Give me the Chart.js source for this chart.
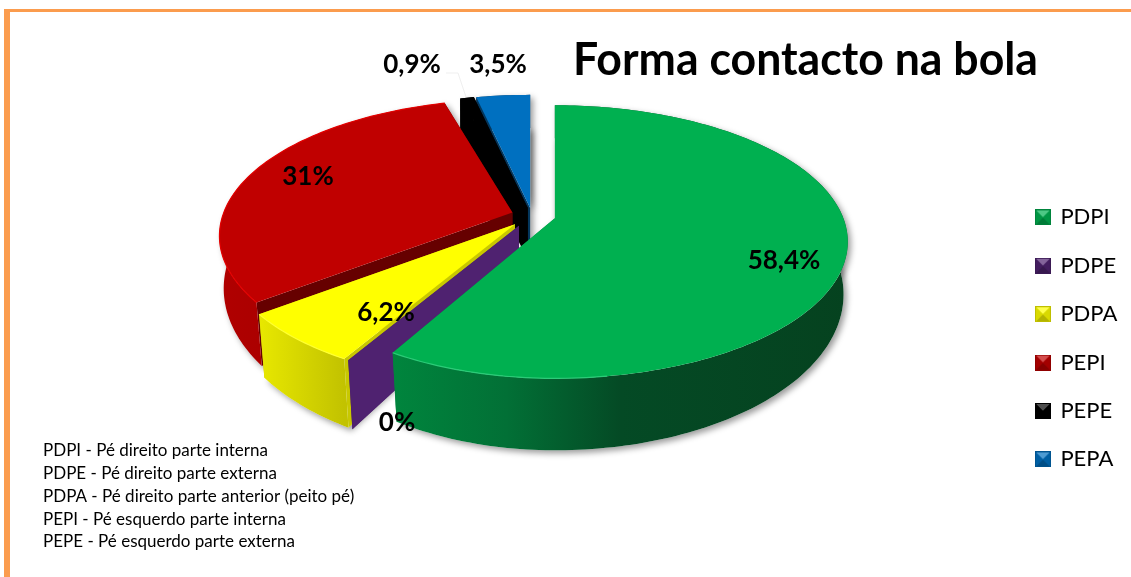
<!DOCTYPE html>
<html><head><meta charset="utf-8">
<style>html,body{margin:0;padding:0;background:#fff}canvas{display:block}</style>
<script src="https://cdn.jsdelivr.net/npm/chart.js@4"></script>
</head><body><canvas id="c" width="1131" height="577"></canvas>
<script>
const categories = ['PDPI','PDPE','PDPA','PEPI','PEPE','PEPA'];
const shares = [58.4,0,6.2,31,0.9,3.5];
const shareLabels = ['58,4%','0%','6,2%','31%','0,9%','3,5%'];
const notes = ['PDPI - Pé direito parte interna','PDPE - Pé direito parte externa','PDPA - Pé direito parte anterior (peito pé)','PEPI - Pé esquerdo parte interna','PEPE - Pé esquerdo parte externa'];
const chartTitle = 'Forma contacto na bola';

const topColors = ['#00B050','#4F2270','#FFFF00','#C00000','#000000','#0070C0'];
const sideColors = ['#008040','#4F2270','#C8C800','#660000','#000000','#04365C'];
const wallStops = [
  [[0,'#00853D'],[.25,'#027036'],[.5,'#044A25'],[1,'#05421F']],
  [[0,'#4F2270'],[1,'#4F2270']],
  [[0,'#E8E800'],[1,'#C2C200']],
  [[0,'#B00000'],[1,'#980000']],
  [[0,'#000'],[1,'#000']],
  [[0,'#04365C'],[1,'#04365C']]
];
const rimColors = ['#2CCB78',null,'#FFFF30','#E40000',null,null];
const explode = [16.4,18,17.8,14.3,12,11.5];
const labelAt = [[784,261],[397,423],[386,313],[308,177],[412,65],[498,65]];

const CX=532,CY=215.5,KX=288.6,KY=132.5,B=.172,KX2=285,KY2=152,B2=.16,D0=51;
const FONT='Lato, Carlito, sans-serif';

function swatch(hex){
  const c=document.createElement('canvas');c.width=16;c.height=16;const x=c.getContext('2d');
  const shade=(f)=>{const n=parseInt(hex.slice(1),16);let r=n>>16,g=(n>>8)&255,b=n&255;
    const m=v=>Math.round(f>1?v+(255-v)*(f-1):v*f);return `rgb(${m(r)},${m(g)},${m(b)})`;};
  x.fillStyle=shade(.85);x.fillRect(0,0,16,16);
  const tri=(a,b,col)=>{x.fillStyle=col;x.beginPath();x.moveTo(a[0],a[1]);x.lineTo(b[0],b[1]);x.lineTo(8,8);x.closePath();x.fill();};
  tri([0,0],[16,0],shade(1.3));tri([0,16],[16,16],shade(.7));tri([0,0],[0,16],shade(.85));tri([16,0],[16,16],shade(.85));
  x.strokeStyle=shade(.75);x.strokeRect(.5,.5,15,15);
  return c;
}

function drawPie(chart){
  const ctx=chart.ctx, arcs=chart.getDatasetMeta(0).data;
  // the front-left of the largest slice sits slightly narrower in the picture
  const squeeze=(a,i)=>(i===0&&Math.cos(a)<0)?.95:1;
  const T=(a,p,i)=>{const d=1-B*Math.sin(a);return [p[0]+Math.cos(a)*KX*squeeze(a,i)/d,p[1]+Math.sin(a)*KY/d];};
  const U=(a,p,i)=>{const d=1-B2*Math.sin(a);return [p[0]+Math.cos(a)*KX2*squeeze(a,i)/d,p[1]+D0+Math.sin(a)*KY2/d];};
  const path=(pts)=>{ctx.beginPath();pts.forEach((q,i)=>i?ctx.lineTo(q[0],q[1]):ctx.moveTo(q[0],q[1]));ctx.closePath();};
  const samples=(s,e)=>{const n=Math.max(2,Math.ceil((e-s)/.02));const o=[];for(let i=0;i<=n;i++)o.push(s+(e-s)*i/n);return o;};
  const info=arcs.map((el)=>{
    const {startAngle:s,endAngle:e,outerRadius:R}=el.getProps(['startAngle','endAngle','outerRadius'],true);
    const mid=(s+e)/2, k=(el.options.offset||0)/R;
    return {s,e,p:[CX+Math.cos(mid)*k*KX,CY+Math.sin(mid)*k*KY]};
  });
  const order=[5,4,3,2,1,0];
  ctx.save();
  ctx.save();
  ctx.shadowColor='rgba(0,0,0,.4)';ctx.shadowBlur=6;ctx.shadowOffsetX=3;ctx.shadowOffsetY=3;
  order.forEach(i=>{const {s,e,p}=info[i];if(e-s<1e-6)return;const A=samples(s,e);
    ctx.fillStyle='#fff';
    path([p,...A.map(a=>T(a,p,i))]);ctx.fill();
    path([[p[0],p[1]+D0],...A.map(a=>U(a,p,i))]);ctx.fill();
  });
  ctx.restore();
  order.forEach(i=>{
    const {s,e,p}=info[i];const A=samples(s,e);
    const q=[p[0],p[1]+D0];
    ctx.fillStyle=sideColors[i];
    [s,e].forEach(a=>{path([p,T(a,p,i),U(a,p,i),q]);ctx.fill();});
    if(e-s<1e-6)return;
    const xs=A.map(a=>T(a,p,i)[0]);
    const g=ctx.createLinearGradient(Math.min(...xs),0,Math.max(...xs),0);
    wallStops[i].forEach(st=>g.addColorStop(st[0],st[1]));
    ctx.fillStyle=g;
    path([...A.map(a=>T(a,p,i)),...A.slice().reverse().map(a=>U(a,p,i))]);ctx.fill();
    ctx.fillStyle=topColors[i];
    path([p,...A.map(a=>T(a,p,i))]);ctx.fill();
    if(rimColors[i]){ctx.strokeStyle=rimColors[i];ctx.lineWidth=1.2;ctx.beginPath();
      let started=false;
      A.forEach((a)=>{if(i===0&&(Math.sin(a)<.2||Math.cos(a)>.15))return;const t=T(a,p,i);started?ctx.lineTo(t[0],t[1]):ctx.moveTo(t[0],t[1]);started=true;});ctx.stroke();}
  });
  ctx.restore();
}

const scene={
  id:'scene',
  beforeDraw(chart){
    const ctx=chart.ctx;ctx.save();ctx.fillStyle='#fff';ctx.fillRect(0,0,1131,577);
    ctx.fillStyle='#FB9C4E';ctx.fillRect(4,9,1127,3);ctx.fillRect(4,9,6,568);ctx.restore();
  },
  afterLayout(chart){
    const t=chart.titleBlock;t.left=573;t.right=1038;t.top=33;t.bottom=87;
    const l=chart.legend;l.left=1010;l.right=1131;l.top=180;l.bottom=520;
  },
  beforeDatasetDraw(chart){drawPie(chart);return false;},
  afterDatasetsDraw(chart){
    const ctx=chart.ctx;ctx.save();
    ctx.strokeStyle='#EFEFEF';ctx.lineWidth=1;ctx.beginPath();ctx.moveTo(446,73);ctx.lineTo(458,73);ctx.lineTo(466,97);ctx.stroke();
    ctx.fillStyle='#000';ctx.textAlign='center';ctx.textBaseline='middle';ctx.font='bold 26px '+FONT;
    shareLabels.forEach((s,i)=>ctx.fillText(s,labelAt[i][0],labelAt[i][1]));
    ctx.textAlign='left';ctx.font='17px '+FONT;
    notes.forEach((n,i)=>ctx.fillText(n,43,451+i*22.7));
    ctx.restore();
  }
};

new Chart(document.getElementById('c'),{
  type:'pie',
  data:{labels:categories,datasets:[{data:shares,backgroundColor:topColors,offset:explode,radius:200,borderWidth:0}]},
  options:{
    responsive:false,animation:false,
    plugins:{
      tooltip:{enabled:false},
      title:{display:true,text:chartTitle,color:'#000',align:'center',padding:0,font:{family:FONT,weight:'bold',size:45}},
      legend:{display:true,position:'right',align:'start',
        labels:{color:'#000',font:{family:FONT,size:22},padding:26.4,boxWidth:13,usePointStyle:true,
          generateLabels:(c)=>categories.map((t,i)=>({text:t,fontColor:'#000',pointStyle:swatch(topColors[i]),hidden:false,index:i,lineWidth:0}))}}
    }
  },
  plugins:[scene]
});
</script></body></html>
